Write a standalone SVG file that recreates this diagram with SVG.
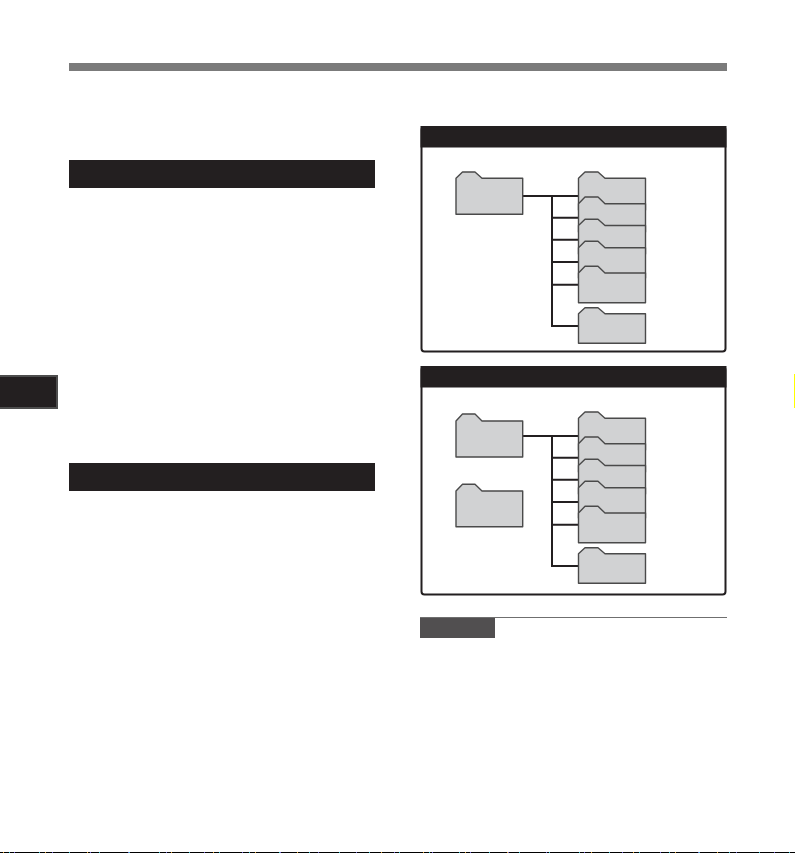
<svg xmlns="http://www.w3.org/2000/svg" width="795" height="853" viewBox="0 0 795 853">
<style>
.folder{fill:#d1d2d3;stroke:#4a4a4a;stroke-width:1.4;stroke-linejoin:round}
.head{fill:#231f20}
.panel{fill:#fff;stroke:#231f20;stroke-width:2}
.conn{fill:none;stroke:#231f20;stroke-width:2}
</style>
<defs>
<path id="child-short" d="M0 6.6L6.5 0H17.5L25 6.6H67V32H0Z"/>
</defs>
<rect width="795" height="853" fill="#fff"/>
<rect id="top-bar" x="69" y="63" width="658" height="8" fill="#7b7b7b"/>
<g id="section-heading-1"><rect class="head" x="69" y="160" width="306" height="28"/></g>
<g id="section-heading-2"><rect class="head" x="69" y="463" width="306" height="28"/></g>
<g id="side-tab"><rect x="-2" y="376" width="59" height="32" fill="#231f20" stroke="#4d4d4d" stroke-width="2"/></g>
<rect id="edge-mark" x="794" y="374" width="1" height="34" fill="#ffff00"/>

<g id="panel-1">
<rect class="panel" x="421.5" y="127" width="304" height="224.5" rx="3"/>
<rect class="head" x="420.5" y="126" width="306" height="21.5"/>
</g>
<g id="panel-2">
<rect class="panel" x="421.5" y="367" width="304" height="227.5" rx="3"/>
<rect class="head" x="420.5" y="366" width="306" height="21.5"/>
</g>

<g id="connectors">
<path class="conn" d="M523 196H578M552 196V326H578M552 217.7H578M552 239.7H578M552 262H578M552 284.7H578"/>
<path class="conn" d="M523 436H578M552 436V566H578M552 457.7H578M552 479.7H578M552 502H578M552 524.7H578"/>
</g>

<g id="p1-root"><path class="folder" d="M456 178.3L462.5 172H475L482 178.3H522.7V214.3H456Z"/></g>
<g id="p1-child-1"><path class="folder" d="M578.5 178.3L585 172H598L605 178.3H645.5V210H578.5Z"/></g>
<g id="p1-child-2"><path class="folder" d="M578.5 203.7L585 197H598L605 203.7H645.5V232H578.5Z"/></g>
<g id="p1-child-3"><path class="folder" d="M578.5 225.5L585 219.3H598L605 225.5H645.5V254H578.5Z"/></g>
<g id="p1-child-4"><path class="folder" d="M578.5 247.7L585 241.3H598L605 247.7H645.5V278H578.5Z"/></g>
<g id="p1-child-5"><path class="folder" d="M578.5 273L585 266.3H598L605 273H645.5V302.7H578.5Z"/></g>
<g id="p1-child-6"><path class="folder" d="M578.5 313.7L585 307.7H598L605 313.7H645.5V343.3H578.5Z"/></g>

<g id="p2-root-1"><path class="folder" d="M456 421L462.5 414H475L482 421H522.7V457H456Z"/></g>
<g id="p2-root-2"><path class="folder" d="M456 491L462.5 484.3H475L482 491H522.7V526.7H456Z"/></g>
<g id="p2-child-1"><path class="folder" d="M578.5 418.3L585 412H598L605 418.3H645.5V450H578.5Z"/></g>
<g id="p2-child-2"><path class="folder" d="M578.5 443.7L585 437H598L605 443.7H645.5V472H578.5Z"/></g>
<g id="p2-child-3"><path class="folder" d="M578.5 465.5L585 459.3H598L605 465.5H645.5V494H578.5Z"/></g>
<g id="p2-child-4"><path class="folder" d="M578.5 487.7L585 481.3H598L605 487.7H645.5V518H578.5Z"/></g>
<g id="p2-child-5"><path class="folder" d="M578.5 513L585 506.3H598L605 513H645.5V542.7H578.5Z"/></g>
<g id="p2-child-6"><path class="folder" d="M578.5 553.7L585 547.7H598L605 553.7H645.5V583.3H578.5Z"/></g>

<g id="note">
<rect x="420" y="618" width="75" height="20" fill="#514f50"/>
<line x1="420" y1="617.5" x2="727" y2="617.5" stroke="#6f6f6f" stroke-width="1"/>
</g>

<g id="bottom-edge">
<rect x="0" y="852" width="795" height="1" fill="#000"/>
<line x1="3" y1="852.5" x2="795" y2="852.5" stroke="#e0a030" stroke-dasharray="1 41"/>
<line x1="9" y1="852.5" x2="795" y2="852.5" stroke="#30c0d0" stroke-dasharray="1 29"/>
<line x1="14" y1="852.5" x2="795" y2="852.5" stroke="#7060d0" stroke-dasharray="1 37"/>
</g>
</svg>
